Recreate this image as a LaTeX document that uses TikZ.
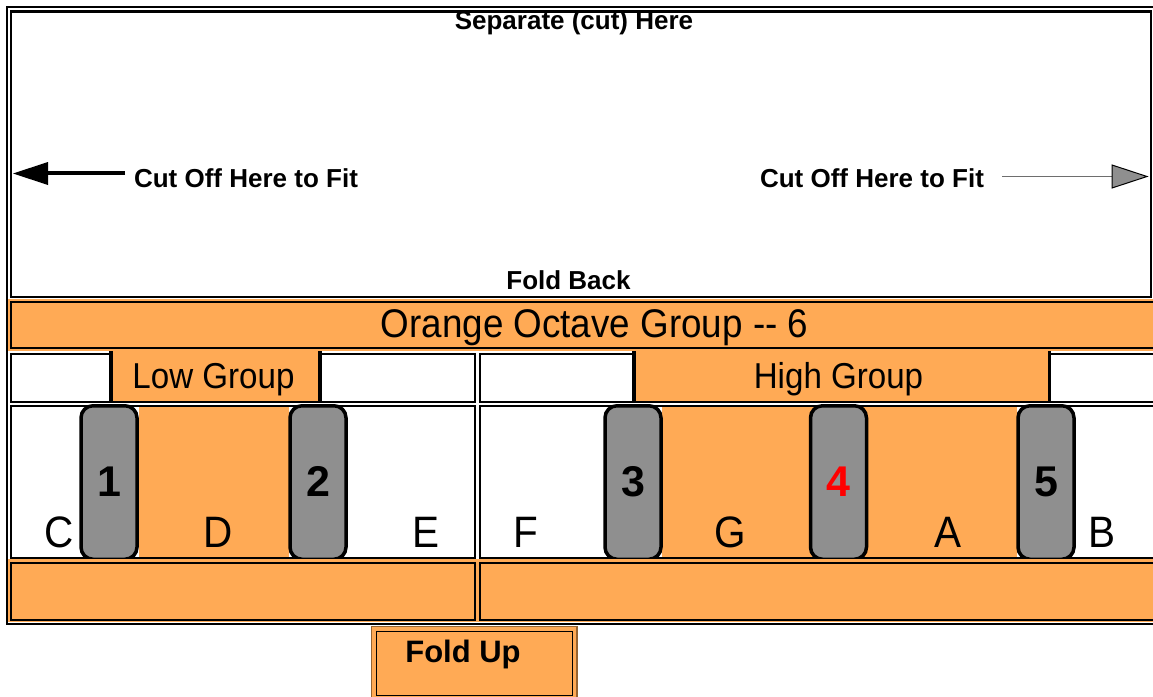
\documentclass[tikz,border=0pt]{standalone}
\usepackage{fontspec}
\setmainfont{Liberation Sans}
\newfontfamily\narrowfont[FakeStretch=0.92]{Liberation Sans}
\definecolor{org}{RGB}{255,170,85}
\definecolor{keygray}{RGB}{143,143,143}
\definecolor{arrgray}{RGB}{110,110,110}
\definecolor{brownedge}{RGB}{150,100,50}
\begin{document}
\begin{tikzpicture}[x=1pt,y=-1pt,
  cellline/.style={draw=black,line width=2pt},
  orgfill/.style={fill=org},
  keybox/.style={draw=black,line width=3.5pt,fill=keygray,rounded corners=12pt,
    minimum width=56pt,minimum height=153.5pt,inner sep=0pt},
  boldlbl/.style={font=\fontsize{26}{30}\selectfont\bfseries,inner sep=0pt,anchor=base},
  grouplbl/.style={font=\narrowfont\fontsize{36}{40}\selectfont,inner sep=0pt,anchor=base},
  notelbl/.style={font=\narrowfont\fontsize{44}{48}\selectfont,inner sep=0pt,anchor=base},
  numlbl/.style={font=\fontsize{43}{46}\selectfont\bfseries,inner sep=0pt,anchor=base},
]
\useasboundingbox (0,0) rectangle (1153,696);
\clip (0,0) rectangle (1153,696);
% outer frame
\draw[cellline] (7,7) rectangle (1170,624);
% top panel
\draw[draw=black,line width=2.5pt] (11,11.5) rectangle (1151,297);
\node[boldlbl] (sep) at (574,29) {Separate (cut) Here};
\node[boldlbl] (fback) at (568.5,289) {Fold Back};
\node[boldlbl] (cutL) at (246,187) {Cut Off Here to Fit};
\node[boldlbl] (cutR) at (872,187) {Cut Off Here to Fit};
% left arrow
\coordinate (la) at (125,173);
\coordinate (lb) at (46,173);
\draw[line width=3.5pt] (la) -- (lb);
\fill[black] (13,173.5) -- (48,162) -- (48,185) -- cycle;
% right arrow
\coordinate (ra) at (1002,176.5);
\coordinate (rb) at (1112,176.5);
\draw[arrgray,line width=1.3pt] (ra) -- (rb);
\draw[fill=keygray,draw=black,line width=1pt] (1112,165) -- (1147,176.5) -- (1112,188) -- cycle;
% orange octave bar
\fill[org] (7,298.5) rectangle (1170,350.5);
\draw[cellline] (11,301.7) rectangle (1170,347.7);
\node[grouplbl,font=\narrowfont\fontsize{40}{44}\selectfont] (oct) at (594.5,337) {Orange Octave Group -- 6};
% group row
\draw[cellline] (11,354) rectangle (475,401.7);
\draw[cellline] (480,354) rectangle (1170,401.7);
\fill[org] (109,351) rectangle (322,400.5);
\draw[line width=3.5pt] (111,351) -- (111,402.5);
\draw[line width=3.5pt] (320,351) -- (320,402.5);
\fill[org] (632,351) rectangle (1051,400.5);
\draw[line width=3.5pt] (634,351) -- (634,402.5);
\draw[line width=3.5pt] (1049.5,351) -- (1049.5,402.5);
\node[grouplbl] (low) at (213.5,388) {Low Group};
\node[grouplbl] (high) at (838.5,388) {High Group};
% key row
\fill[org] (139,407) rectangle (289,557);
\fill[org] (662,407) rectangle (1017,557);
\draw[cellline] (11,406) rectangle (475,557.7);
\draw[cellline] (480,406) rectangle (1170,557.7);
\node[keybox] (k1) at (109,482.5) {};
\node[keybox] (k2) at (318,482.5) {};
\node[keybox] (k3) at (633,482.5) {};
\node[keybox] (k4) at (838.5,482.5) {};
\node[keybox] (k5) at (1046,482.5) {};
\node[numlbl] (n1) at (109,496) {1};
\node[numlbl] (n2) at (318,496) {2};
\node[numlbl] (n3) at (633,496) {3};
\node[numlbl,text=red] (n4) at (838.5,496) {4};
\node[numlbl] (n5) at (1046,496) {5};
\node[notelbl] (nC) at (59,547) {C};
\node[notelbl] (nD) at (218,547) {D};
\node[notelbl] (nE) at (426,547) {E};
\node[notelbl] (nF) at (526,547) {F};
\node[notelbl] (nG) at (730,547) {G};
\node[notelbl] (nA) at (948,547) {A};
\node[notelbl] (nB) at (1102,547) {B};
% bottom bar
\fill[org] (7,559) rectangle (478,622);
\fill[org] (478,559) rectangle (1170,622);
\draw[cellline] (11,563) rectangle (475,619.5);
\draw[cellline] (480,563) rectangle (1170,619.5);
\draw[cellline] (7,7) -- (7,624) -- (1170,624);
% fold up tab
\draw[fill=org,draw=brownedge,line width=1.2pt] (371.5,626.5) rectangle (577,710);
\draw[line width=1pt] (376,631) rectangle (572,695);
\node[boldlbl,font=\fontsize{31}{34}\selectfont\bfseries] (fup) at (463,662) {Fold Up};
\end{tikzpicture}
\end{document}
